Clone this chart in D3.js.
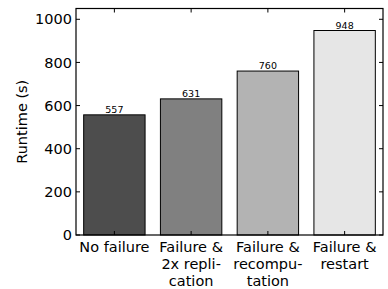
<!DOCTYPE html>
<html>
<head>
<meta charset="utf-8">
<script src="https://cdn.jsdelivr.net/npm/d3@7"></script>
<style>
  body { margin: 0; background: #fff; }
  svg text { font-family: "DejaVu Sans", sans-serif; fill: #000; }
</style>
</head>
<body>
<script>
(function(){

    //chart data
    var categories = [
        ["No failure"],
        ["Failure &", "2x repli-", "cation"],
        ["Failure &", "recompu-", "tation"],
        ["Failure &", "restart"]
    ];
    var runtimes = [557, 631, 760, 948];
    var barColors = ["#4d4d4d", "#808080", "#b3b3b3", "#e6e6e6"];
    var yTicks = [0, 200, 400, 600, 800, 1000];

    var width = 388, height = 289;
    var margin = {left: 76, right: 5, top: 8.5, bottom: 54};

    var svg = d3.select("body")
        .append("svg")
        .attr("width", width)
        .attr("height", height);

    var x = d3.scaleBand()
        .domain(d3.range(runtimes.length))
        .range([margin.left, width - margin.right])
        .paddingInner(0.2)
        .paddingOuter(0.1);

    var y = d3.scaleLinear()
        .domain([0, 1050])
        .range([height - margin.bottom, margin.top]);

    //bars
    svg.selectAll(".bar")
        .data(runtimes)
        .enter()
        .append("rect")
        .attr("class", "bar")
        .attr("x", function(d, i){ return x(i); })
        .attr("y", function(d){ return y(d); })
        .attr("width", x.bandwidth())
        .attr("height", function(d){ return y(0) - y(d); })
        .style("fill", function(d, i){ return barColors[i]; })
        .style("stroke", "#000")
        .style("stroke-width", 1);

    //value labels
    svg.selectAll(".val")
        .data(runtimes)
        .enter()
        .append("text")
        .attr("class", "val")
        .attr("x", function(d, i){ return x(i) + x.bandwidth() / 2; })
        .attr("y", function(d){ return y(d) - 2; })
        .attr("text-anchor", "middle")
        .style("font-size", "9.5px")
        .text(function(d){ return d; });

    //frame
    var x0 = margin.left, x1 = width - margin.right,
        yb = y(0), yt = margin.top;
    svg.append("rect")
        .attr("x", x0).attr("y", yt)
        .attr("width", x1 - x0).attr("height", yb - yt)
        .style("fill", "none")
        .style("stroke", "#000")
        .style("stroke-width", 1.2);

    //y ticks, inward on both sides
    var yAxis = d3.axisLeft(y).tickValues(yTicks).tickFormat(d3.format("d"))
        .tickSize(0).tickPadding(4);
    svg.append("g")
        .attr("transform", "translate(" + x0 + ",0)")
        .call(yAxis)
        .call(function(g){ g.select(".domain").remove(); })
        .selectAll("text")
        .style("font-size", "14.5px");

    svg.selectAll(".ytick")
        .data(yTicks)
        .enter()
        .append("path")
        .attr("class", "ytick")
        .attr("d", function(d){
            return "M" + x0 + "," + y(d) + "h4M" + x1 + "," + y(d) + "h-4";
        })
        .style("stroke", "#000");

    //x ticks, inward top and bottom
    svg.selectAll(".xtick")
        .data(runtimes)
        .enter()
        .append("path")
        .attr("class", "xtick")
        .attr("d", function(d, i){
            var cx = x(i) + x.bandwidth() / 2;
            return "M" + cx + "," + yb + "v-4M" + cx + "," + yt + "v4";
        })
        .style("stroke", "#000");

    //category labels
    var labels = svg.selectAll(".cat")
        .data(categories)
        .enter()
        .append("text")
        .attr("class", "cat")
        .attr("text-anchor", "middle")
        .style("font-size", "14.5px")
        .attr("transform", function(d, i){
            return "translate(" + (x(i) + x.bandwidth() / 2) + "," + (yb + 17) + ")";
        });
    labels.selectAll("tspan")
        .data(function(d){ return d; })
        .enter()
        .append("tspan")
        .attr("x", 0)
        .attr("y", function(d, j){ return j * 17; })
        .text(function(d){ return d; });

    //y label
    svg.append("text")
        .attr("transform", "translate(27," + ((yb + yt) / 2) + ") rotate(-90)")
        .attr("text-anchor", "middle")
        .style("font-size", "14.5px")
        .text("Runtime (s)");

})();
</script>
</body>
</html>
